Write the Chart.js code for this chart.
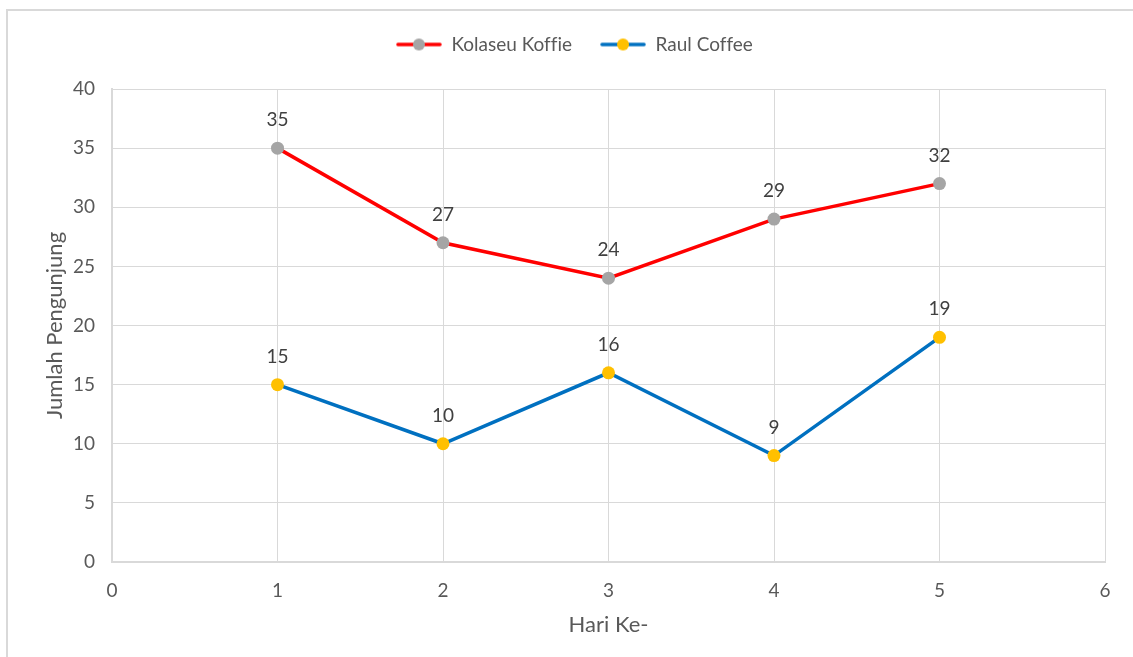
<!DOCTYPE html>
<html>
<head>
<meta charset="utf-8">
<script src="https://cdn.jsdelivr.net/npm/chart.js@4/dist/chart.umd.min.js"></script>
<style>
  html, body { margin: 0; padding: 0; background: #ffffff; }
  #wrap { width: 1133px; height: 657px; position: relative; }
</style>
</head>
<body>
<div id="wrap"><canvas id="c" width="1133" height="657"></canvas></div>
<script>
// Visitors per day for two coffee shops
const days = [1, 2, 3, 4, 5];
const kolaseuKoffie = [35, 27, 24, 29, 32];
const raulCoffee = [15, 10, 16, 9, 19];
const seriesNames = ['Kolaseu Koffie', 'Raul Coffee'];
const xAxisTitle = 'Hari Ke-';
const yAxisTitle = 'Jumlah Pengunjung';
const xRange = [0, 6];
const yRange = [0, 40];
const yStep = 5;

const FONT = 'Lato, "Open Sans", sans-serif';
const TEXT = '#595959';
const GRID = '#d9d9d9';

const lineColors = ['#ff0000', '#0070c0'];
const markerColors = ['#a5a5a5', '#ffc000'];

function toPoints(xs, ys) { return xs.map((x, i) => ({ x: x, y: ys[i] })); }

// Legend swatch: a short line with the series marker in its middle
function legendIcon(lineColor, markerColor) {
  const cv = document.createElement('canvas');
  cv.width = 46; cv.height = 14;
  const g = cv.getContext('2d');
  g.strokeStyle = lineColor; g.lineWidth = 3.5; g.lineCap = 'round';
  g.beginPath(); g.moveTo(2, 7); g.lineTo(44, 7); g.stroke();
  g.fillStyle = markerColor;
  g.beginPath(); g.arc(23, 7, 6, 0, Math.PI * 2); g.fill();
  return cv;
}
const icons = [legendIcon(lineColors[0], markerColors[0]), legendIcon(lineColors[1], markerColors[1])];

// Outer frame of the chart and white background
const framePlugin = {
  id: 'frame',
  beforeDraw(chart) {
    const ctx = chart.ctx;
    ctx.textRendering = 'optimizeSpeed';
    ctx.save();
    ctx.fillStyle = '#ffffff';
    ctx.fillRect(0, 0, chart.width, chart.height);
    ctx.strokeStyle = GRID;
    ctx.lineWidth = 2;
    ctx.beginPath();
    ctx.moveTo(7, chart.height);
    ctx.lineTo(7, 10);
    ctx.lineTo(chart.width, 10);
    ctx.stroke();
    ctx.restore();
  }
};

// Value labels above each point
const valueLabels = {
  id: 'valueLabels',
  afterDatasetsDraw(chart) {
    const ctx = chart.ctx;
    ctx.save();
    ctx.font = '19px ' + FONT;
    ctx.fillStyle = '#404040';
    ctx.textAlign = 'center';
    ctx.textBaseline = 'middle';
    chart.data.datasets.forEach((ds, i) => {
      const meta = chart.getDatasetMeta(i);
      meta.data.forEach((pt, j) => {
        ctx.fillText(String(ds.data[j].y), pt.x, pt.y - 28);
      });
    });
    ctx.restore();
  }
};

// Reserve a fixed band for the legend above the plot and centre it on the chart
const legendBand = {
  id: 'legendBand',
  afterInit(chart) {
    const lg = chart.legend;
    if (!lg) return;
    const fit = lg.fit;
    lg.fit = function () { fit.call(this); this.height = 82; };
    const draw = lg.draw;
    lg.draw = function () {
      const l = this.left, r = this.right;
      this.left = l + 17; this.right = r + 17;
      draw.call(this);
      this.left = l; this.right = r;
    };
  }
};

new Chart(document.getElementById('c'), {
  type: 'scatter',
  data: {
    datasets: [
      {
        label: seriesNames[0],
        data: toPoints(days, kolaseuKoffie),
        showLine: true,
        borderColor: lineColors[0],
        borderWidth: 3.5,
        backgroundColor: markerColors[0],
        pointBackgroundColor: markerColors[0],
        pointBorderColor: markerColors[0],
        pointRadius: 6.5,
        pointBorderWidth: 0,
        tension: 0
      },
      {
        label: seriesNames[1],
        data: toPoints(days, raulCoffee),
        showLine: true,
        borderColor: lineColors[1],
        borderWidth: 3.5,
        backgroundColor: markerColors[1],
        pointBackgroundColor: markerColors[1],
        pointBorderColor: markerColors[1],
        pointRadius: 6.5,
        pointBorderWidth: 0,
        tension: 0
      }
    ]
  },
  options: {
    responsive: false,
    animation: false,
    devicePixelRatio: 1,
    layout: { padding: { left: 8, right: 28, top: 7, bottom: 0 } },
    plugins: {
      tooltip: { enabled: false },
      legend: {
        display: true,
        position: 'top',
        labels: {
          usePointStyle: true,
          pointStyleWidth: 46,
          padding: 28,
          color: TEXT,
          font: { family: FONT, size: 19 },
          generateLabels(chart) {
            return chart.data.datasets.map((ds, i) => ({
              text: ds.label,
              pointStyle: icons[i],
              datasetIndex: i,
              hidden: false,
              lineWidth: 0,
              fillStyle: 'rgba(0,0,0,0)',
              strokeStyle: 'rgba(0,0,0,0)',
              fontColor: TEXT
            }));
          }
        }
      }
    },
    scales: {
      x: {
        type: 'linear',
        min: xRange[0],
        max: xRange[1],
        ticks: { stepSize: 1, color: TEXT, padding: 17, font: { family: FONT, size: 19 } },
        grid: { color: GRID, lineWidth: 1, drawTicks: false },
        border: { color: GRID, width: 2 },
        title: { display: true, text: xAxisTitle, color: TEXT, font: { family: FONT, size: 22 }, padding: { top: 0, bottom: 19 } },
        afterFit(scale) { scale.height = 95; }
      },
      y: {
        type: 'linear',
        min: yRange[0],
        max: yRange[1],
        ticks: { stepSize: yStep, color: TEXT, padding: 17, font: { family: FONT, size: 19 } },
        grid: { color: GRID, lineWidth: 1, drawTicks: false },
        border: { color: GRID, width: 2 },
        title: { display: true, text: yAxisTitle, color: TEXT, font: { family: FONT, size: 22 }, padding: { top: 34, bottom: 0 } },
        afterFit(scale) { scale.width = 104; }
      }
    }
  },
  plugins: [framePlugin, valueLabels, legendBand]
});
</script>
</body>
</html>
